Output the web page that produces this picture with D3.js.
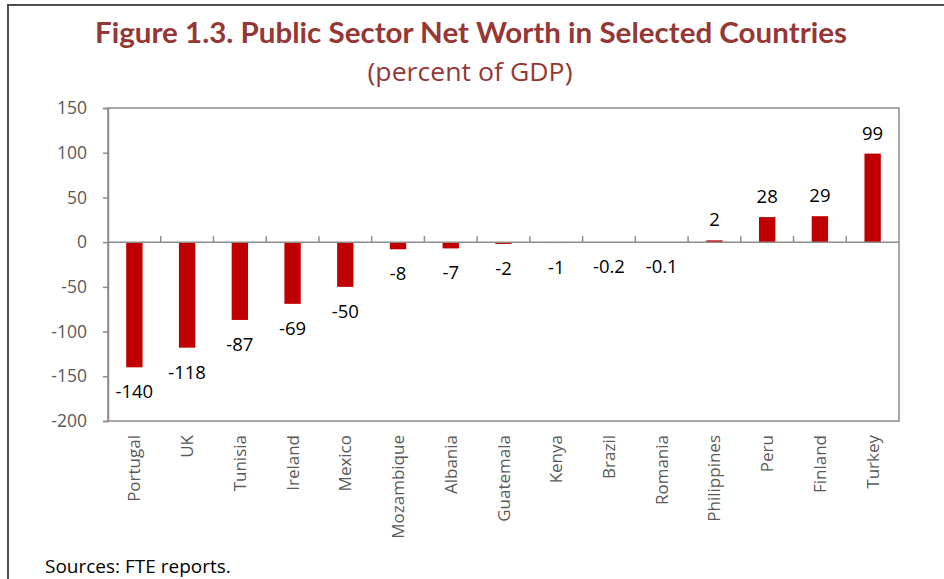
<!DOCTYPE html>
<html>
<head>
<meta charset="utf-8">
<script src="https://cdn.jsdelivr.net/npm/d3@7"></script>
<style>
  html, body { margin: 0; padding: 0; background: #fff; }
  svg { display: block; }
</style>
</head>
<body>
<svg id="chart" width="944" height="579"></svg>
<script>
const categories = ["Portugal","UK","Tunisia","Ireland","Mexico","Mozambique","Albania","Guatemala","Kenya","Brazil","Romania","Philippines","Peru","Finland","Turkey"];
const values = [-140,-118,-87,-69,-50,-8,-7,-2,-1,-0.2,-0.1,2,28,29,99];
const labels = ["-140","-118","-87","-69","-50","-8","-7","-2","-1","-0.2","-0.1","2","28","29","99"];
const yTicks = [150,100,50,0,-50,-100,-150,-200];
const titleText = "Figure 1.3. Public Sector Net Worth in Selected Countries";
const subtitleText = "(percent of GDP)";
const sourceText = "Sources: FTE reports.";

const W = 944, H = 579;
const m = {left:108, right:45, top:108, bottom:158};
const svg = d3.select("#chart");

// outer frame (top and left)
svg.append("line").attr("x1",7).attr("x2",W).attr("y1",5).attr("y2",5)
  .attr("stroke","#4d4d4d").attr("stroke-width",2);
svg.append("line").attr("x1",8).attr("x2",8).attr("y1",4).attr("y2",H)
  .attr("stroke","#4d4d4d").attr("stroke-width",2);

const titleColor = "#953735";
svg.append("text").attr("x",471).attr("y",43).attr("text-anchor","middle")
  .attr("font-family","Lato, 'Open Sans', sans-serif").attr("font-weight","bold")
  .attr("font-size",28).attr("fill",titleColor)
  .attr("textLength",752).attr("lengthAdjust","spacingAndGlyphs")
  .text(titleText);
svg.append("text").attr("x",470).attr("y",81).attr("text-anchor","middle")
  .attr("font-family","'Open Sans', sans-serif")
  .attr("font-size",25).attr("fill",titleColor)
  .attr("textLength",205).attr("lengthAdjust","spacingAndGlyphs")
  .text(subtitleText);

const x = d3.scaleBand().domain(categories).range([m.left, W - m.right]).paddingInner(0.69).paddingOuter(0.345);
const y = d3.scaleLinear().domain([-200,150]).range([H - m.bottom, m.top]);

const axisColor = "#8c8c8c";
const textGray = "#595959";

// plot frame
svg.append("rect").attr("x",m.left).attr("y",m.top)
  .attr("width",W - m.right - m.left).attr("height",(H - m.bottom) - m.top)
  .attr("fill","none").attr("stroke",axisColor).attr("stroke-width",1.5);

// y axis
const yAxis = svg.append("g").attr("transform",`translate(${m.left},0)`)
  .call(d3.axisLeft(y).tickValues(yTicks).tickSize(5).tickPadding(16).tickFormat(d3.format("d")));
yAxis.select(".domain").attr("stroke",axisColor).attr("stroke-width",1.5);
yAxis.selectAll(".tick line").attr("stroke",axisColor).attr("stroke-width",1.5);
yAxis.selectAll(".tick text").attr("fill",textGray)
  .attr("font-family","'Open Sans', sans-serif").attr("font-size",17.5)
  .text(d => d < 0 ? "-" + Math.abs(d) : d);

// bars
svg.append("g").selectAll("rect").data(values).join("rect")
  .attr("x",(d,i) => x(categories[i]))
  .attr("width",x.bandwidth())
  .attr("y",d => y(Math.max(0,d)))
  .attr("height",d => Math.abs(y(d) - y(0)))
  .attr("fill","#c00000");

// zero axis with category ticks
const zeroAxis = svg.append("g").attr("transform",`translate(0,${y(0)})`);
zeroAxis.append("line").attr("x1",m.left).attr("x2",W - m.right)
  .attr("stroke",axisColor).attr("stroke-width",1.5);
const step = x.step();
zeroAxis.selectAll(".zt").data(categories.slice(1)).join("line")
  .attr("class","zt")
  .attr("x1",(d) => x(d) - x.paddingInner()*step/2)
  .attr("x2",(d) => x(d) - x.paddingInner()*step/2)
  .attr("y1",0).attr("y2",-6)
  .attr("stroke",axisColor).attr("stroke-width",1.5);

// data labels
svg.append("g").selectAll("text").data(values).join("text")
  .attr("x",(d,i) => x(categories[i]) + x.bandwidth()/2)
  .attr("y",d => d < 0 ? y(d) + 31 : y(d) - 14)
  .attr("text-anchor","middle")
  .attr("font-family","'Open Sans', sans-serif").attr("font-size",18.5)
  .attr("fill","#000")
  .text((d,i) => labels[i]);

// x category labels
svg.append("g").selectAll("text").data(categories).join("text")
  .attr("transform",d => `translate(${x(d) + x.bandwidth()/2 + 6},${H - m.bottom + 14}) rotate(-90)`)
  .attr("text-anchor","end")
  .attr("font-family","'Open Sans', sans-serif").attr("font-size",17)
  .attr("fill",textGray)
  .text(d => d);

// source
svg.append("text").attr("x",45).attr("y",573)
  .attr("font-family","'Open Sans', sans-serif").attr("font-size",19)
  .attr("fill","#000").text(sourceText);
</script>
</body>
</html>
